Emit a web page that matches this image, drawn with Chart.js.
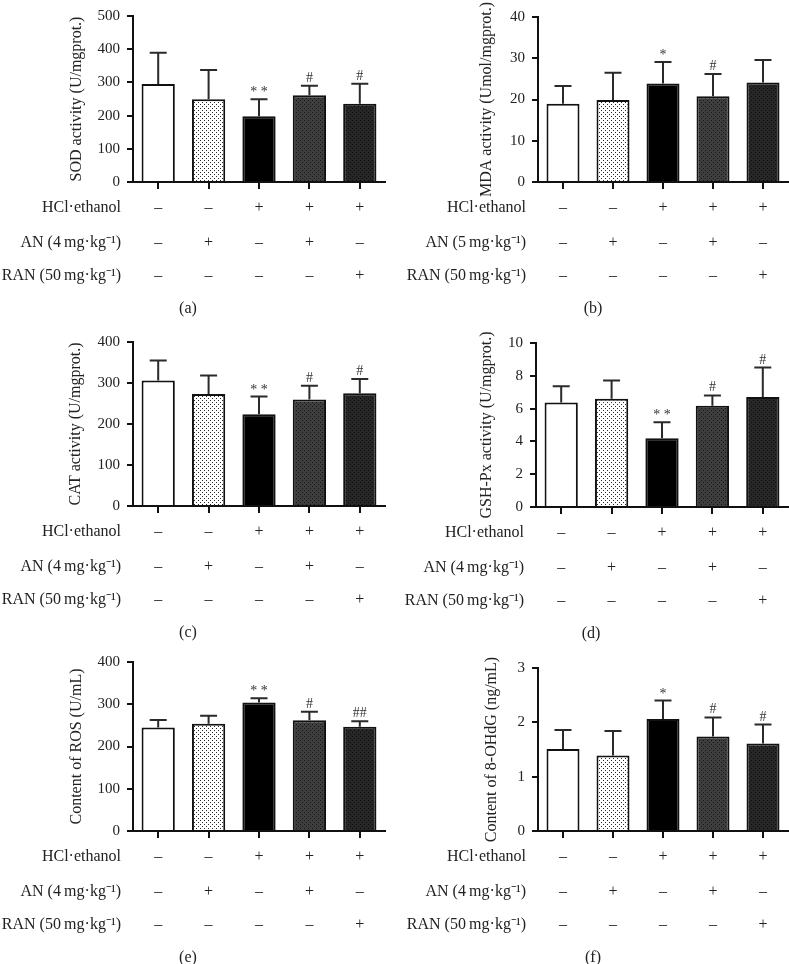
<!DOCTYPE html>
<html>
<head>
<meta charset="utf-8">
<script src="https://cdn.jsdelivr.net/npm/chart.js@4.4.1/dist/chart.umd.min.js"></script>
<style>
  body { margin: 0; background: #fff; width: 789px; height: 964px; position: relative; overflow: hidden; }
  canvas { position: absolute; }
</style>
</head>
<body>
<canvas id="panelA" width="394" height="322" style="left:0;top:0"></canvas>
<canvas id="panelB" width="394" height="322" style="left:395px;top:0"></canvas>
<canvas id="panelC" width="394" height="322" style="left:0;top:322px"></canvas>
<canvas id="panelD" width="394" height="322" style="left:395px;top:322px"></canvas>
<canvas id="panelE" width="394" height="320" style="left:0;top:644px"></canvas>
<canvas id="panelF" width="394" height="320" style="left:395px;top:644px"></canvas>
<script>
// groups (the sign table under each panel describes them)
const groups = ['Control', 'AN', 'HCl·ethanol', 'HCl·ethanol + AN', 'HCl·ethanol + RAN'];
const hclRow = ['–', '–', '+', '+', '+'];
const anRow  = ['–', '+', '–', '+', '–'];
const ranRow = ['–', '–', '–', '–', '+'];

// means and upper error (SD)
const sodMean  = [295, 249, 198, 261, 236];
const sodSd    = [94, 88, 51, 29, 60];
const mdaMean  = [19.0, 19.9, 23.9, 20.8, 24.1];
const mdaSd    = [4.3, 6.6, 5.2, 5.4, 5.5];
const catMean  = [306, 273, 224, 260, 275];
const catSd    = [49, 45, 43, 33, 35];
const gshMean  = [6.37, 6.6, 4.19, 6.17, 6.7];
const gshSd    = [1.0, 1.12, 0.98, 0.63, 1.8];
const rosMean  = [245, 254, 304, 262, 247];
const rosSd    = [18, 19, 10, 20, 13];
const ohdgMean = [1.51, 1.39, 2.06, 1.74, 1.61];
const ohdgSd   = [0.35, 0.45, 0.34, 0.35, 0.35];

// significance marks
const sodSig  = ['', '', '* *', '#', '#'];
const mdaSig  = ['', '', '*', '#', ''];
const catSig  = ['', '', '* *', '#', '#'];
const gshSig  = ['', '', '* *', '#', '#'];
const rosSig  = ['', '', '* *', '#', '##'];
const ohdgSig = ['', '', '*', '#', '#'];

// y axis ranges
const sodTicks  = [0, 500, 100];
const mdaTicks  = [0, 40, 10];
const catTicks  = [0, 400, 100];
const gshTicks  = [0, 10, 2];
const rosTicks  = [0, 400, 100];
const ohdgTicks = [0, 3, 1];

const serif = '"Liberation Serif", "Times New Roman", serif';

function dotPattern(ctx, bg, dot) {
  const c = document.createElement('canvas');
  c.width = 4; c.height = 4;
  const g = c.getContext('2d');
  g.fillStyle = bg; g.fillRect(0, 0, 4, 4);
  g.fillStyle = dot;
  g.fillRect(0, 0, 1, 1);
  g.fillRect(2, 2, 1, 1);
  return ctx.createPattern(c, 'repeat');
}

// error bars, marks and the sign table
const extras = {
  id: 'extras',
  afterDatasetsDraw(chart, args, opts) {
    const ctx = chart.ctx, xs = chart.scales.x, ys = chart.scales.y;
    const mean = chart.data.datasets[0].data;
    ctx.save();
    ctx.strokeStyle = '#2a2a2a';
    ctx.lineWidth = 2;
    mean.forEach((m, i) => {
      const x = xs.getPixelForValue(i);
      const y0 = ys.getPixelForValue(m);
      const y1 = ys.getPixelForValue(m + opts.sd[i]);
      ctx.beginPath();
      ctx.moveTo(x, y0); ctx.lineTo(x, y1);
      ctx.moveTo(x - 8.5, y1); ctx.lineTo(x + 8.5, y1);
      ctx.stroke();
      const s = opts.sig[i];
      if (s) {
        ctx.fillStyle = '#333';
        ctx.font = '14px ' + serif;
        ctx.textAlign = 'center';
        ctx.textBaseline = 'alphabetic';
        ctx.fillText(s, x, y1 - (s.includes('*') ? 3 : 4));
      }
    });
    ctx.restore();
  },
  afterDraw(chart, args, opts) {
    const ctx = chart.ctx, xs = chart.scales.x, area = chart.chartArea;
    const rows = [[opts.rowNames[0], hclRow, 26], [opts.rowNames[1], anRow, 61], [opts.rowNames[2], ranRow, 94]];
    ctx.save();
    ctx.fillStyle = '#222';
    ctx.font = '16px ' + serif;
    ctx.textBaseline = 'middle';
    rows.forEach(([name, signs, dy]) => {
      const y = area.bottom + dy;
      ctx.textAlign = 'right';
      ctx.fillText(name, area.left - 12, y);
      ctx.textAlign = 'center';
      signs.forEach((s, i) => ctx.fillText(s, xs.getPixelForValue(i), y));
    });
    ctx.textAlign = 'center';
    ctx.fillText(opts.letter, area.left + 55, area.bottom + 127);
    ctx.restore();
  }
};

function makePanel(id, cfg) {
  const canvas = document.getElementById(id);
  const ctx = canvas.getContext('2d');
  const cw = canvas.width, ch = canvas.height;
  const fills = [
    '#ffffff',
    dotPattern(ctx, '#ffffff', '#2a2a2a'),
    '#000000',
    dotPattern(ctx, '#3e3e3e', '#161616'),
    dotPattern(ctx, '#272727', '#0c0c0c')
  ];
  return new Chart(ctx, {
    type: 'bar',
    data: {
      labels: groups,
      datasets: [{
        data: cfg.mean,
        backgroundColor: fills,
        borderColor: '#111',
        borderWidth: 2,
        borderSkipped: 'bottom',
        barPercentage: 0.66,
        categoryPercentage: 1
      }]
    },
    options: {
      responsive: false,
      animation: false,
      layout: {
        padding: { left: 0, right: cw - cfg.right, top: cfg.top, bottom: 0 }
      },
      plugins: {
        legend: { display: false },
        tooltip: { enabled: false },
        extras: {
          sd: cfg.sd, sig: cfg.sig, letter: cfg.letter,
          rowNames: ['HCl·ethanol', cfg.anName, 'RAN (50\u2009mg·kg\u207B\u00B9)']
        }
      },
      scales: {
        x: {
          offset: true,
          afterFit: (axis) => { axis.height = ch - cfg.bottom; },
          border: { display: true, color: '#111', width: 2 },
          grid: { display: true, drawOnChartArea: false, drawTicks: true, tickLength: 7, offset: false, color: '#111', lineWidth: 2 },
          ticks: { display: false }
        },
        y: {
          min: cfg.ticks[0], max: cfg.ticks[1],
          afterFit: (axis) => { axis.width = cfg.axisLeft; },
          border: { display: true, color: '#111', width: 2 },
          grid: { display: true, drawOnChartArea: false, drawTicks: true, tickLength: 6, color: '#111', lineWidth: 2 },
          ticks: { stepSize: cfg.ticks[2], padding: 7, color: '#222', font: { family: serif, size: 15 } },
          title: {
            display: true, text: cfg.title, color: '#222',
            font: { family: serif, size: 16 },
            padding: { top: cfg.titleX - 9.6, bottom: 0 }
          }
        }
      }
    },
    plugins: [extras]
  });
}

// positions are relative to each panel's canvas
makePanel('panelA', { mean: sodMean, sd: sodSd, sig: sodSig, ticks: sodTicks, title: 'SOD activity (U/mgprot.)',
  anName: 'AN (4\u2009mg·kg\u207B\u00B9)', letter: '(a)', axisLeft: 133, right: 385, top: 16, bottom: 182, titleX: 77 });
makePanel('panelB', { mean: mdaMean, sd: mdaSd, sig: mdaSig, ticks: mdaTicks, title: 'MDA activity (Umol/mgprot.)',
  anName: 'AN (5\u2009mg·kg\u207B\u00B9)', letter: '(b)', axisLeft: 143, right: 393, top: 17, bottom: 182, titleX: 92 });
makePanel('panelC', { mean: catMean, sd: catSd, sig: catSig, ticks: catTicks, title: 'CAT activity (U/mgprot.)',
  anName: 'AN (4\u2009mg·kg\u207B\u00B9)', letter: '(c)', axisLeft: 133, right: 385, top: 20, bottom: 184, titleX: 76 });
makePanel('panelD', { mean: gshMean, sd: gshSd, sig: gshSig, ticks: gshTicks, title: 'GSH-Px activity (U/mgprot.)',
  anName: 'AN (4\u2009mg·kg\u207B\u00B9)', letter: '(d)', axisLeft: 141, right: 393, top: 21, bottom: 185, titleX: 92 });
makePanel('panelE', { mean: rosMean, sd: rosSd, sig: rosSig, ticks: rosTicks, title: 'Content of ROS (U/mL)',
  anName: 'AN (4\u2009mg·kg\u207B\u00B9)', letter: '(e)', axisLeft: 133, right: 385, top: 18, bottom: 187, titleX: 77 });
makePanel('panelF', { mean: ohdgMean, sd: ohdgSd, sig: ohdgSig, ticks: ohdgTicks, title: 'Content of 8-OHdG (ng/mL)',
  anName: 'AN (4\u2009mg·kg\u207B\u00B9)', letter: '(f)', axisLeft: 143, right: 393, top: 24, bottom: 187, titleX: 97 });
</script>
</body>
</html>
